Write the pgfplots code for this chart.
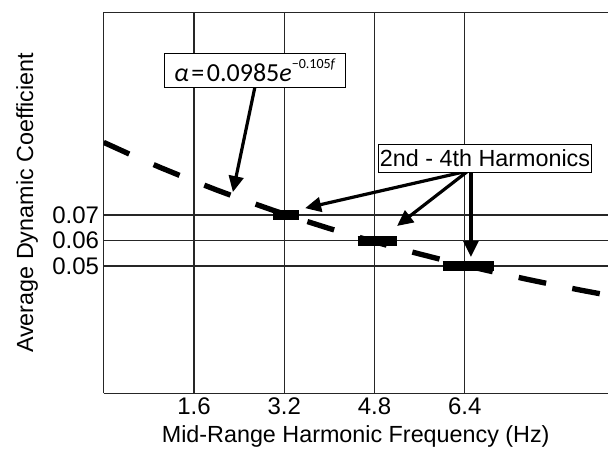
\documentclass[border=0pt]{standalone}
\usepackage{pgfplots}
\pgfplotsset{compat=1.18}
\usepackage{fontspec}
\setmainfont{Liberation Sans}
\newfontfamily\carlito{Carlito}
\usetikzlibrary{arrows.meta}
\begin{document}
\begin{tikzpicture}
\begin{axis}[
  scale only axis, width=378pt, height=286pt,
  xmin=0, xmax=8.935, ymin=0, ymax=0.1496,
  axis x line*=box, axis y line*=left,
  xtick={1.6,3.2,4.8,6.4}, xticklabels={1.6,3.2,4.8,6.4},
  ytick={0.05,0.06,0.07}, yticklabels={0.05,0.06,0.07},
  grid=major, major grid style={black!85, line width=0.9pt},
  major tick length=0pt,
  axis line style={black!85, line width=0.9pt},
  tick label style={font=\fontsize{18}{20}\selectfont},
  label style={font=\fontsize{17.5}{20}\selectfont},
  xlabel={Mid-Range Harmonic Frequency (Hz)},
  ylabel={Average Dynamic Coefficient},
  xlabel style={at={([yshift=-32.6pt]axis description cs:0.5,0)}, anchor=center},
  ylabel style={at={([xshift=-57.5pt]axis description cs:0,0.5)}, anchor=center},
  clip=true,
]
\addplot[black, line width=4pt, dash pattern=on 21pt off 20pt] coordinates {
 (0,0.0985) (0.5,0.09346) (1.0,0.08868) (1.5,0.08415) (2.0,0.07984)
 (2.5,0.07576) (3.0,0.07188) (3.5,0.06821) (4.0,0.06472) (4.5,0.06141)
 (5.0,0.05827) (5.5,0.05529) (6.0,0.05246) (6.5,0.04978) (7.0,0.04723)
 (7.5,0.04482) (8.0,0.04252) (8.5,0.04035) (9.0,0.03829)};
\addplot[black, line width=7.5pt] coordinates {(3.0,0.07) (3.46,0.07)};
\addplot[black, line width=7.5pt] coordinates {(4.5,0.06) (5.2,0.06)};
\addplot[black, line width=7.5pt] coordinates {(6.01,0.05) (6.91,0.05)};

\draw[line width=2.4pt, -{Triangle[length=12pt,width=11pt]}] (axis cs:2.68,0.1202) -- (axis cs:2.29,0.0790);
\node[draw, line width=0.9pt, fill=white, minimum width=136pt, minimum height=25pt, inner sep=1pt]
  at (axis cs:2.68,0.1267) {\carlito\fontsize{19.5}{20}\selectfont \textit{α}\hspace{0.1em}=\hspace{0.1em}0.0985\textit{e}\raisebox{0.5em}{\fontsize{10.5}{10}\selectfont −0.105\textit{f}}};

\draw[line width=2.4pt, -{Triangle[length=12pt,width=11pt]}] (axis cs:6.46,0.0873) -- (axis cs:3.57,0.0727);
\draw[line width=2.4pt, -{Triangle[length=12pt,width=11pt]}] (axis cs:6.46,0.0873) -- (axis cs:5.20,0.0657);
\draw[line width=2.4pt, -{Triangle[length=12pt,width=11pt]}] (axis cs:6.51,0.0873) -- (axis cs:6.51,0.0535);
\node[draw, line width=0.9pt, fill=white, minimum width=160pt, minimum height=21pt, inner sep=1pt]
  at (axis cs:6.76,0.0923) {\fontsize{17.5}{20}\selectfont 2nd - 4th Harmonics};
\end{axis}
\pgfresetboundingbox
\path[use as bounding box] ([xshift=-77.8pt,yshift=-49.9pt]current axis.south west) rectangle ++(456pt,345pt);
\end{tikzpicture}
\end{document}
